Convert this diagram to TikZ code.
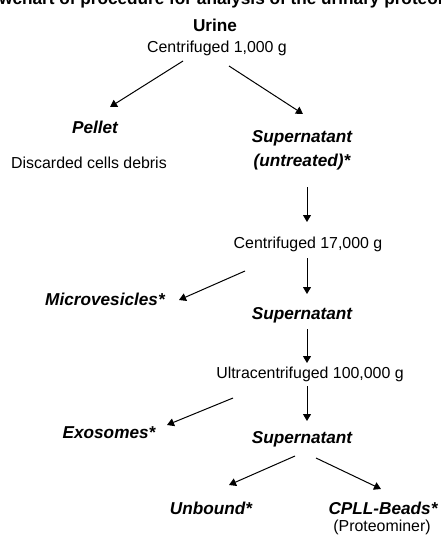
\documentclass[tikz,border=0pt]{standalone}
\usepackage{fontspec}
\setmainfont{Liberation Sans}
\usetikzlibrary{arrows.meta,calc}
\tikzset{
  plain/.style={font=\fontsize{15.9}{18}\selectfont, inner sep=0pt},
  bi/.style={font=\fontsize{17.2}{20}\selectfont\bfseries\itshape, inner sep=0pt},
  bu/.style={font=\fontsize{17.2}{20}\selectfont\bfseries, inner sep=0pt},
  arr/.style={line width=1pt, -{Triangle[length=7pt,width=8pt]}}
}
\begin{document}
\begin{tikzpicture}[x=1pt,y=-1pt]
\useasboundingbox (0,0) rectangle (440,535);
\clip (0,0) rectangle (440,535);
\node[bu, anchor=base] (title) at (218,5) {Flowchart of procedure for analysis of the urinary proteome};
\node[bu] (urine) at (215,25) {Urine};
\node[plain] (c1) at (217,48) {Centrifuged 1,000 g};
\node[bi] (pellet) at (95,127) {Pellet};
\node[plain] (debris) at (89,163) {Discarded cells debris};
\node[bi] (sup1) at (302,138) {Supernatant};
\node[bi] (untr) at (302,162) {(untreated)*};
\node[plain] (c2) at (308,244) {Centrifuged 17,000 g};
\node[bi] (micro) at (105,299) {Microvesicles*};
\node[bi] (sup2) at (302,315) {Supernatant};
\node[plain] (c3) at (310,374) {Ultracentrifuged 100,000 g};
\node[bi] (exo) at (109,433) {Exosomes*};
\node[bi] (sup3) at (302,439) {Supernatant};
\node[bi] (unbound) at (211,508) {Unbound*};
\node[bi] (cpll) at (383,508) {CPLL-Beads*};
\node[plain] (prot) at (382,527) {(Proteominer)};

\draw[arr] ($(c1)+(-34,13)$) -- ($(pellet)+(15,-20)$);
\draw[arr] ($(c1)+(12,18)$) -- ($(sup1)+(1,-24)$);
\draw[arr] ($(untr)+(5,25)$) -- ($(c2)+(-1,-22)$);
\draw[arr] ($(c2)+(-1,14)$) -- ($(sup2)+(5,-21)$);
\draw[arr] ($(c2)+(-63,27)$) -- ($(micro)+(74,1)$);
\draw[arr] ($(sup2)+(5,14)$) -- ($(c3)+(-3,-11)$);
\draw[arr] ($(c3)+(-3,12)$) -- ($(sup3)+(5,-18)$);
\draw[arr] ($(c3)+(-77,24)$) -- ($(exo)+(58,-8)$);
\draw[arr] ($(sup3)+(-7,17)$) -- ($(unbound)+(18,-23)$);
\draw[arr] ($(sup3)+(14,19)$) -- ($(cpll)+(-2,-19)$);
\end{tikzpicture}
\end{document}
